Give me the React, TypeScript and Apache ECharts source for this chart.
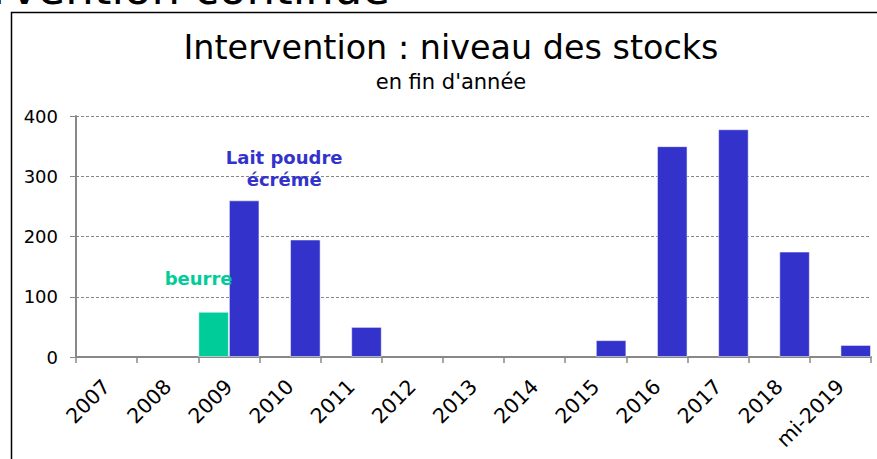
import React, { useEffect, useRef } from "react";
import * as echarts from "echarts";

const categories = ["2007", "2008", "2009", "2010", "2011", "2012", "2013", "2014", "2015", "2016", "2017", "2018", "mi-2019"];
const beurre: (number | string)[] = ["-", "-", 75, "-", "-", "-", "-", "-", "-", "-", "-", "-", "-"];
const laitPoudre: (number | string)[] = ["-", "-", 260, 195, 50, "-", "-", "-", 28, 350, 378, 175, 20];
const yTicks = { min: 0, max: 400, interval: 100 };
const titleText = "Intervention : niveau des stocks";
const subtitleText = "en fin d'année";
const pageHeading = "Intervention continue";
const beurreLabel = "beurre";
const laitLabel = "Lait poudre\nécrémé";

const BLUE = "#3333CC";
const GREEN = "#00CC99";
const FONT = "'DejaVu Sans', Verdana, sans-serif";

export default function App() {
  const ref = useRef<HTMLDivElement>(null);
  useEffect(() => {
    if (!ref.current) return;
    const chart = echarts.init(ref.current, null, { renderer: "svg" });
    const labelIndex = 2;
    const beurreData = beurre.map((v, i) =>
      i === labelIndex
        ? {
            value: v,
            label: {
              show: true,
              position: "top",
              formatter: beurreLabel,
              offset: [-15, -19],
              color: GREEN,
              fontWeight: "bold",
              fontSize: 18,
              fontFamily: FONT,
            },
          }
        : v
    );
    const laitData = laitPoudre.map((v, i) =>
      i === labelIndex
        ? {
            value: v,
            label: {
              show: true,
              position: "top",
              formatter: laitLabel,
              offset: [40, -5],
              color: BLUE,
              fontWeight: "bold",
              fontSize: 18,
              lineHeight: 22,
              align: "center",
              fontFamily: FONT,
            },
          }
        : v
    );
    chart.setOption({
      animation: false,
      textStyle: { fontFamily: FONT },
      grid: { left: 76, right: 6, top: 116, bottom: 102, containLabel: false },
      graphic: [
        {
          type: "rect",
          shape: { x: 11.5, y: 12.5, width: 1000, height: 600 },
          style: { fill: "none", stroke: "#000", lineWidth: 1.5 },
          silent: true,
        },
        {
          type: "text",
          x: 390,
          y: -12,
          style: {
            text: pageHeading,
            fontSize: 45,
            fontFamily: FONT,
            fill: "#000",
            align: "right",
            verticalAlign: "middle",
          },
        },
        {
          type: "text",
          x: 451,
          y: 47,
          style: {
            text: titleText,
            fontSize: 33.4,
            fontFamily: FONT,
            fill: "#000",
            align: "center",
            verticalAlign: "middle",
          },
        },
        {
          type: "text",
          x: 451,
          y: 82,
          style: {
            text: subtitleText,
            fontSize: 21,
            fontFamily: FONT,
            fill: "#000",
            align: "center",
            verticalAlign: "middle",
          },
        },
      ],
      xAxis: {
        type: "category",
        data: categories,
        axisLine: { show: true, lineStyle: { color: "#888", width: 2 } },
        axisTick: { show: true, length: 6, lineStyle: { color: "#888", width: 1.5 } },
        axisLabel: { rotate: 45, fontSize: 20.5, color: "#000", margin: 26, fontFamily: FONT, interval: 0 },
      },
      yAxis: {
        type: "value",
        min: yTicks.min,
        max: yTicks.max,
        interval: yTicks.interval,
        axisLine: { show: true, lineStyle: { color: "#888", width: 2 } },
        axisTick: { show: true, length: 6, lineStyle: { color: "#888", width: 1 } },
        axisLabel: { fontSize: 18, color: "#000", margin: 18, fontFamily: FONT },
        splitLine: { show: true, lineStyle: { color: "#888", width: 1, type: [3, 2] } },
      },
      series: [
        {
          name: "beurre",
          type: "bar",
          data: beurreData,
          barGap: "0%",
          barCategoryGap: "0%",
          itemStyle: { color: GREEN, borderColor: "rgba(255,255,255,0.5)", borderWidth: 1 },
        },
        {
          name: "Lait poudre écrémé",
          type: "bar",
          data: laitData,
          barGap: "0%",
          barCategoryGap: "0%",
          itemStyle: { color: BLUE, borderColor: "rgba(255,255,255,0.5)", borderWidth: 1 },
        },
      ],
    });
    return () => chart.dispose();
  }, []);
  return (
    <div
      ref={ref}
      style={{ position: "fixed", left: 0, top: 0, width: 877, height: 459, background: "#fff" }}
    />
  );
}
